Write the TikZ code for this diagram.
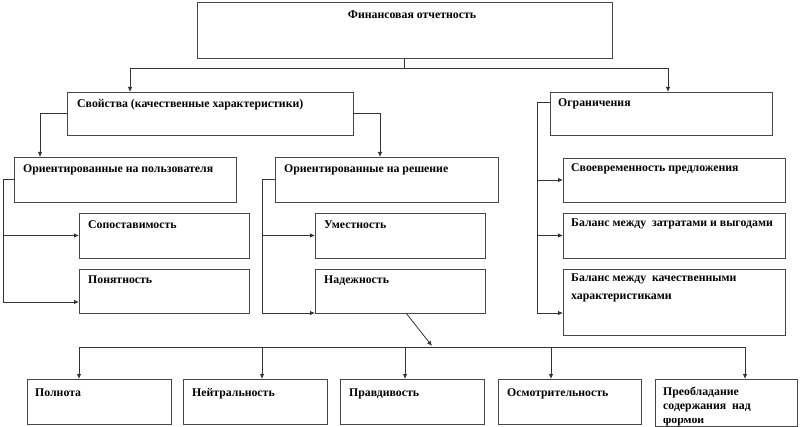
\documentclass[tikz,border=0pt]{standalone}
\usepackage{fontspec}
\setmainfont{Liberation Serif}
\newfontfamily\tnrfont{Liberation Serif}
\usetikzlibrary{arrows.meta,calc}
\tikzset{
  boxst/.style={draw=black!72, line width=0.9pt, inner sep=0pt, outer sep=0pt, anchor=north west},
  txt/.style={font=\tnrfont\fontsize{11.8}{13}\selectfont\bfseries, inner sep=0pt, anchor=base west},
  conn/.style={draw=black!80, line width=0.8pt},
  arr/.style={conn, -{Latex[length=5pt,width=4.5pt]}},
}
% name, x, y, w, h, dx, dy, text
\newcommand{\mkbox}[8]{%
  \node[boxst, minimum width=#4pt, minimum height=#5pt] (#1) at (#2,#3) {};
  \node[txt] (#1t) at ($(#1.north west)+(#6,#7)$) {#8};
}
\begin{document}
\begin{tikzpicture}[x=1pt,y=-1pt]
\useasboundingbox (0,0) rectangle (800,427);
% boxes
\node[boxst, minimum width=415pt, minimum height=56pt] (fo) at (197,2) {};
\node[txt, anchor=base] (fot) at (412,19) {Финансовая отчетность};
\mkbox{sv}{67}{92}{286}{43}{10}{16}{Свойства (качественные характеристики)}
\mkbox{us}{14}{157}{222}{45}{9}{16}{Ориентированные на пользователя}
\mkbox{de}{275}{157}{223}{45}{9}{16}{Ориентированные на решение}
\mkbox{sp}{79}{213}{170}{45}{9}{16}{Сопоставимость}
\mkbox{pp}{79}{269}{170}{44}{9}{15}{Понятность}
\mkbox{um}{315}{213}{170}{45}{9}{16}{Уместность}
\mkbox{nd}{315}{269}{170}{44}{9}{15}{Надежность}
\mkbox{og}{550}{92}{222}{43}{8}{15}{Ограничения}
\mkbox{svr}{563}{158}{222}{44}{8}{14}{Своевременность предложения}
\mkbox{bz}{563}{213}{222}{45}{8}{14}{Баланс между\ \ затратами и выгодами}
\mkbox{bk}{563}{269}{222}{66}{8}{13}{Баланс между\ \ качественными}
\node[txt] (bkt2) at ($(bk.north west)+(8,31)$) {характеристиками};
\mkbox{ba}{27}{379}{144}{45}{8}{17}{Полнота}
\mkbox{bb}{183}{379}{144}{45}{9}{17}{Нейтральность}
\mkbox{bc}{340}{379}{144}{45}{9}{17}{Правдивость}
\mkbox{bd}{498}{379}{143}{45}{9}{17}{Осмотрительность}
\mkbox{be}{655}{379}{142}{47}{8}{16}{Преобладание}
\node[txt] (bet2) at ($(be.north west)+(8,30)$) {содержания\ \ над};
\begin{scope}
  \clip (655,418.5) rectangle (797,425);
  \node[txt] (bet3) at ($(be.north west)+(8,44)$) {формой};
\end{scope}
% top connectors
\coordinate (jl) at (130,68);
\coordinate (jr) at (668,68);
\draw[conn] (fo.south) -- (fo.south |- jl);
\draw[conn] (jl) -- (jr);
\draw[arr] (jl) -- (jl |- sv.north);
\draw[arr] (jr) -- (jr |- og.north);
% properties split
\draw[arr] (sv.west) -| ($(us.north west)+(26,0)$);
\draw[arr] (sv.east) -| ($(de.north west)+(105,0)$);
% user oriented
\coordinate (ul) at (3,0);
\coordinate (pparr) at ($(pp.south west)+(0,-11)$);
\draw[arr] (us.west) -| (ul |- pparr) -- (pparr);
\draw[arr] (ul |- sp.west) -- (sp.west);
% decision oriented
\coordinate (dl) at (262,0);
\draw[arr] (de.west) -| (dl |- nd.south west) -- (nd.south west);
\draw[arr] (dl |- um.west) -- (um.west);
% constraints
\coordinate (ogs) at ($(og.north west)+(0,10)$);
\coordinate (rl) at (537,0);
\coordinate (bkarr) at ($(bk.south west)+(0,-22)$);
\draw[arr] (ogs) -| (rl |- bkarr) -- (bkarr);
\draw[arr] (rl |- svr.west) -- (svr.west);
\draw[arr] (rl |- bz.west) -- (bz.west);
% reliability to bottom row
\coordinate (ndb) at ($(nd.south west)+(91,0)$);
\coordinate (dg) at (432,346);
\draw[arr] (ndb) -- (dg);
\coordinate (h1) at (79,347);
\coordinate (h2) at (262,347);
\coordinate (h3) at (405,347);
\coordinate (h4) at (551,347);
\coordinate (h5) at (745,347);
\draw[conn] (h1) -- (h5);
\draw[arr] (h1) -- (h1 |- ba.north);
\draw[arr] (h2) -- (h2 |- bb.north);
\draw[arr] (h3) -- (h3 |- bc.north);
\draw[arr] (h4) -- (h4 |- bd.north);
\draw[arr] (h5) -- (h5 |- be.north);
\end{tikzpicture}
\end{document}
